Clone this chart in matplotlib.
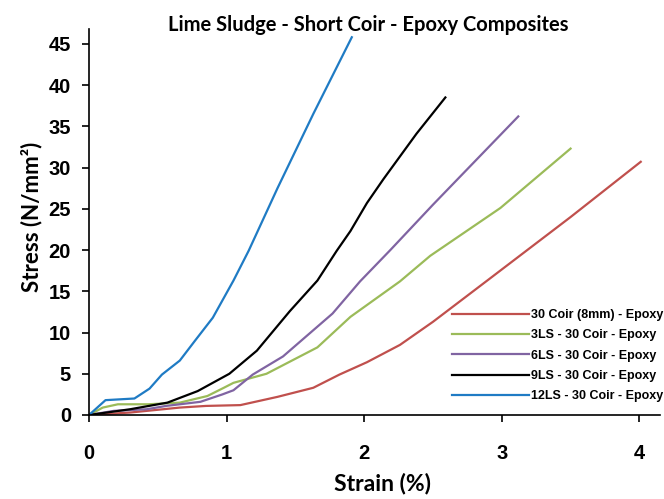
import matplotlib
matplotlib.use("Agg")
import matplotlib.pyplot as plt

# stress-strain data, strain in %, stress in N/mm2
coir_x = [0, 0.3, 0.66, 0.85, 1.1, 1.37, 1.63, 1.82, 2.02, 2.26, 2.5, 2.91, 3.5, 4.01]
coir_y = [0, 0.3, 0.9, 1.1, 1.2, 2.2, 3.3, 4.9, 6.4, 8.5, 11.3, 16.5, 24.0, 30.7]

ls3_x = [0, 0.1, 0.21, 0.43, 0.66, 0.86, 0.98, 1.05, 1.29, 1.66, 1.90, 2.26, 2.48, 2.99, 3.5]
ls3_y = [0, 0.9, 1.3, 1.3, 1.5, 2.3, 3.3, 3.9, 5.0, 8.2, 11.9, 16.2, 19.3, 25.1, 32.3]

ls6_x = [0, 0.18, 0.42, 0.56, 0.81, 0.97, 1.05, 1.19, 1.41, 1.77, 1.97, 2.19, 2.5, 3.12]
ls6_y = [0, 0.5, 0.7, 1.1, 1.6, 2.5, 3.0, 4.9, 7.1, 12.3, 16.2, 20.0, 25.5, 36.2]

ls9_x = [0, 0.3, 0.57, 0.79, 1.02, 1.22, 1.46, 1.66, 1.80, 1.90, 2.02, 2.14, 2.38, 2.59]
ls9_y = [0, 0.7, 1.5, 2.9, 5.0, 7.8, 12.6, 16.3, 19.9, 22.3, 25.7, 28.6, 34.1, 38.5]

ls12_x = [0, 0.12, 0.33, 0.44, 0.53, 0.66, 0.77, 0.90, 1.05, 1.16, 1.37, 1.63, 1.91]
ls12_y = [0, 1.8, 2.0, 3.2, 4.9, 6.6, 9.0, 11.8, 16.3, 19.9, 27.5, 36.5, 45.8]

labels = ['30 Coir (8mm) - Epoxy', '3LS - 30 Coir - Epoxy', '6LS - 30 Coir - Epoxy',
          '9LS - 30 Coir - Epoxy', '12LS - 30 Coir - Epoxy']
colors = ['#C0504D', '#9BBB59', '#8064A2', '#000000', '#1F7BC4']

fig = plt.figure(figsize=(6.64, 4.99), dpi=100)
ax = fig.add_axes([89/664, 84/499, 571/664, 386/499])

series = [(coir_x, coir_y), (ls3_x, ls3_y), (ls6_x, ls6_y), (ls9_x, ls9_y), (ls12_x, ls12_y)]
for (x, y), lab, c in zip(series, labels, colors):
    ax.plot(x, y, color=c, lw=1.6, label=lab)

ax.set_xlim(0, 4.15)
ax.set_ylim(0, 46.8)
ax.set_xticks([0, 1, 2, 3, 4])
ax.set_yticks(range(0, 50, 5))
for s in ['top', 'right']:
    ax.spines[s].set_visible(False)
for s in ['left', 'bottom']:
    ax.spines[s].set_linewidth(1.2)
ax.tick_params(axis='both', direction='out', length=5, width=1.2, labelsize=14.5)
ax.tick_params(axis='x', pad=16)
ax.tick_params(axis='y', pad=8)
for t in ax.get_xticklabels() + ax.get_yticklabels():
    t.set_fontfamily('Liberation Sans')
    t.set_fontweight('bold')

fig.text(368/664, 1 - 25/499, 'Lime Sludge - Short Coir - Epoxy Composites',
         ha='center', va='center', fontsize=14.5, family='Lato', fontweight='bold')
fig.text(382/664, 1 - 484/499, 'Strain (%)', ha='center', va='center',
         fontsize=16.5, family='Lato', fontweight='bold')
fig.text(32/664, 1 - 217/499, 'Stress (N/mm²)', ha='center', va='center',
         rotation=90, fontsize=16, family='Lato', fontweight='bold')

leg = fig.legend(loc='upper right', bbox_to_anchor=(663/664, 1 - 309/499),
                 frameon=False, handlelength=6.2, handletextpad=0.1,
                 labelspacing=0.67, borderpad=0, borderaxespad=0,
                 prop={'family': 'Liberation Sans', 'weight': 'bold', 'size': 9})

fig.savefig('out.png', dpi=100)
